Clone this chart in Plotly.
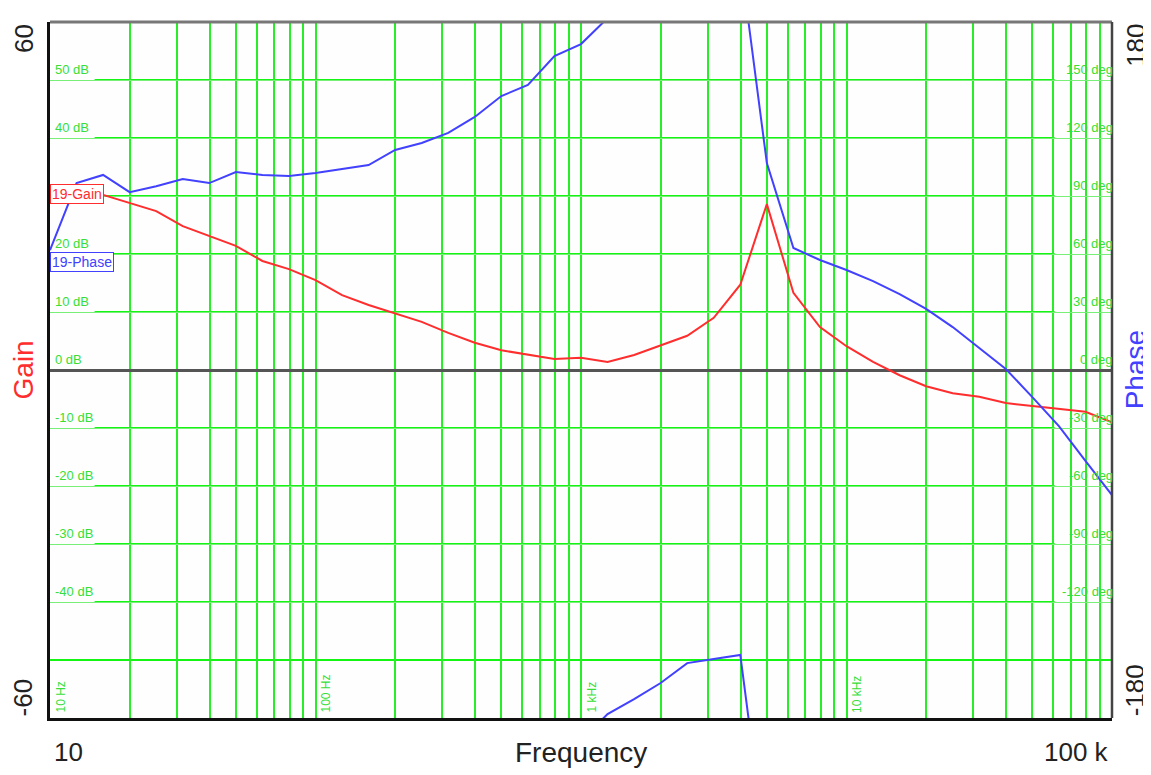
import math
import plotly.graph_objects as go

# Frequency sweep (Hz), 10 points per decade
freq = [10, 12.59, 15.85, 19.95, 25.12, 31.62, 39.81, 50.12, 63.10, 79.43,
        100, 125.9, 158.5, 199.5, 251.2, 316.2, 398.1, 501.2, 631.0, 794.3,
        1000, 1259, 1585, 1995, 2512, 3162, 3981, 5012, 6310, 7943,
        10000, 12590, 15850, 19950, 25120, 31620, 39810, 50120, 63100, 79430, 100000]

gain_db = [31.9, 31.9, 30.2, 28.8, 27.4, 24.8, 23.1, 21.4, 18.8, 17.4,
           15.5, 12.9, 11.2, 9.8, 8.3, 6.4, 4.7, 3.4, 2.6, 1.9,
           2.1, 1.4, 2.6, 4.3, 5.9, 9.0, 14.7, 28.6, 13.3, 7.4,
           4.1, 1.4, -0.9, -2.8, -4.0, -4.6, -5.7, -6.2, -6.7, -7.2, -9.0]

# unwrapped phase (deg); values above 180 wrap around to the bottom of the chart
phase_deg = [62, 96.7, 100.9, 92, 95, 98.8, 96.7, 102.4, 100.9, 100.3,
             101.9, 104, 106, 113.8, 117.4, 122.6, 130.9, 141.7, 147.4, 162.4,
             168.6, 182, 189.8, 198.1, 208.4, 210.5, 212.6, 107, 63.1, 56.9,
             51.7, 46, 39.3, 31.6, 22.2, 11.4, 0.5, -14, -29, -47, -64.7]

gain_levels = [50, 40, 30, 20, 10, 0, -10, -20, -30, -40]
gain_labels = ["50 dB", "40 dB", "", "20 dB", "10 dB", "0 dB",
               "-10 dB", "-20 dB", "-30 dB", "-40 dB"]
phase_labels = ["150 deg", "120 deg", "90 deg", "60 deg", "30 deg", "0 deg",
                "-30 deg", "-60 deg", "-90 deg", "-120 deg"]
decade_freqs = [10, 100, 1000, 10000]
decade_labels = ["10 Hz", "100 Hz", "1 kHz", "10 kHz"]

GREEN = "rgb(40,238,40)"
LABEL_GREEN = "rgb(55,222,55)"
RED = "rgb(255,45,45)"
BLUE = "rgb(65,65,255)"
FONT = "Liberation Sans, Arial, sans-serif"

grid_x = [m * 10 ** d for d in range(1, 5) for m in range(2, 11)]

fig = go.Figure()
fig.add_trace(go.Scatter(x=freq, y=gain_db, mode="lines", name="19-Gain",
                         line=dict(color=RED, width=2), yaxis="y"))
fig.add_trace(go.Scatter(x=freq, y=phase_deg, mode="lines", name="19-Phase",
                         line=dict(color=BLUE, width=2), yaxis="y2"))
fig.add_trace(go.Scatter(x=freq, y=[p - 360 for p in phase_deg], mode="lines",
                         name="19-Phase wrap", line=dict(color=BLUE, width=2),
                         yaxis="y2"))

shapes = []
for lv in gain_levels + [-50]:
    if lv == 0:
        continue
    x0 = 0.0 if lv == -50 else 0.042
    x1 = 1.0 if lv == -50 else 0.946
    shapes.append(dict(type="line", xref="paper", yref="y", x0=x0, x1=x1,
                       y0=lv, y1=lv, line=dict(color="rgb(20,245,20)", width=2.2),
                       layer="below"))
# frame
shapes.append(dict(type="line", xref="paper", yref="paper", x0=0, x1=1, y0=1, y1=1,
                   line=dict(color="#777777", width=3)))
shapes.append(dict(type="line", xref="paper", yref="paper", x0=1, x1=1, y0=0, y1=1,
                   line=dict(color="#444444", width=2.5)))

small = dict(family=FONT, size=13, color=LABEL_GREEN)
ann = []
for lv, gl, pl in zip(gain_levels, gain_labels, phase_labels):
    if gl:
        ann.append(dict(x=0.003, xref="paper", y=lv, yref="y", text=gl, showarrow=False,
                        xanchor="left", yanchor="bottom", yshift=1, font=small))
    ann.append(dict(x=1.0, xref="paper", y=lv, yref="y", text=pl, showarrow=False,
                    xanchor="right", yanchor="bottom", yshift=1, xshift=3, font=small))
for f, t in zip(decade_freqs, decade_labels):
    ann.append(dict(x=math.log10(f), xref="x", y=0, yref="paper", text=t,
                    showarrow=False, textangle=-90, xanchor="left", yanchor="bottom",
                    xshift=1, yshift=3,
                    font=dict(family=FONT, size=12, color=LABEL_GREEN)))
# series tags
ann.append(dict(x=0.0, xref="paper", y=0.753, yref="paper", text="19-Gain",
                showarrow=False, xanchor="left", yanchor="middle",
                bgcolor="white", bordercolor=RED, borderwidth=1, borderpad=1,
                font=dict(family=FONT, size=14, color=RED)))
ann.append(dict(x=0.0, xref="paper", y=0.6545, yref="paper", text="19-Phase",
                showarrow=False, xanchor="left", yanchor="middle",
                bgcolor="white", bordercolor=BLUE, borderwidth=1, borderpad=1,
                font=dict(family=FONT, size=14, color=BLUE)))
# axis end labels and titles
big = dict(family=FONT, size=26, color="#222222")
ann += [
    dict(x=-0.025, xref="paper", y=1, yref="paper", text="60", textangle=-90,
         showarrow=False, xanchor="center", yanchor="top", font=big),
    dict(x=-0.025, xref="paper", y=0, yref="paper", text="-60", textangle=-90,
         showarrow=False, xanchor="center", yanchor="bottom", font=big),
    dict(x=1.022, xref="paper", y=1, yref="paper", text="180", textangle=-90,
         showarrow=False, xanchor="center", yanchor="top", font=big),
    dict(x=1.022, xref="paper", y=0, yref="paper", text="-180", textangle=-90,
         showarrow=False, xanchor="center", yanchor="bottom", font=big),
    dict(x=-0.025, xref="paper", y=0.5, yref="paper", text="Gain", textangle=-90,
         showarrow=False, xanchor="center", yanchor="middle",
         font=dict(family=FONT, size=28, color=RED)),
    dict(x=1.022, xref="paper", y=0.5, yref="paper", text="Phase", textangle=-90,
         showarrow=False, xanchor="center", yanchor="middle",
         font=dict(family=FONT, size=28, color=BLUE)),
    dict(x=0.5, xref="paper", y=-0.049, yref="paper", text="Frequency",
         showarrow=False, xanchor="center", yanchor="middle",
         font=dict(family=FONT, size=28, color="#222222")),
    dict(x=0.0, xref="paper", y=-0.049, yref="paper", text="10",
         showarrow=False, xanchor="left", yanchor="middle", xshift=2, font=big),
    dict(x=1.0, xref="paper", y=-0.049, yref="paper", text="100 k",
         showarrow=False, xanchor="right", yanchor="middle", xshift=-1, font=big),
]

fig.update_layout(
    width=1143, height=767,
    margin=dict(l=42, r=39, t=14, b=57),
    paper_bgcolor="white", plot_bgcolor="#fefefe",
    showlegend=False,
    xaxis=dict(type="log", range=[1, 5], tickvals=grid_x, showticklabels=False,
               ticks="", showgrid=True, gridcolor=GREEN, gridwidth=1.6,
               showline=True, linecolor="#111111", linewidth=3, zeroline=False),
    yaxis=dict(range=[-60, 60], tickvals=gain_levels, showticklabels=False, ticks="",
               showgrid=True, gridcolor="rgb(120,240,120)", gridwidth=1,
               zeroline=True, zerolinecolor="#555555", zerolinewidth=2.5,
               showline=True, linecolor="#111111", linewidth=3),
    yaxis2=dict(range=[-180, 180], overlaying="y", side="right", showgrid=False,
                showticklabels=False, ticks="", zeroline=False, showline=False),
    shapes=shapes, annotations=ann,
)

fig.write_html("out.html")
